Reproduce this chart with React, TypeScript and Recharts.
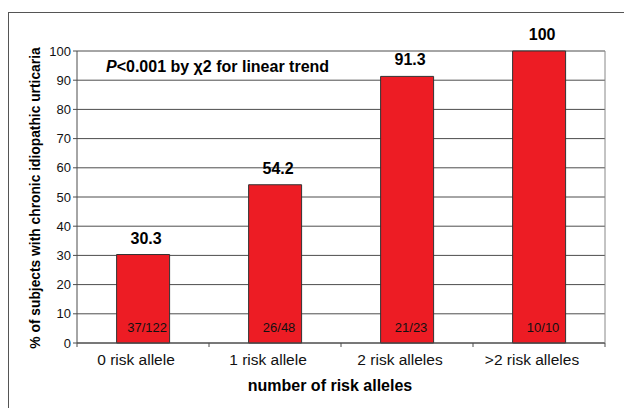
import React from 'react';
import { BarChart, Bar, XAxis, YAxis, CartesianGrid, LabelList, Customized } from 'recharts';

const categories = ['0 risk allele', '1 risk allele', '2 risk alleles', '>2 risk alleles'];
const percentages = [30.3, 54.2, 91.3, 100];
const counts = ['37/122', '26/48', '21/23', '10/10'];
const yTicks = [0, 10, 20, 30, 40, 50, 60, 70, 80, 90, 100];

const yAxisTitle = '% of subjects with chronic idiopathic urticaria';
const xAxisTitle = 'number of risk alleles';
const annotationRest = '<0.001 by \u03c72 for linear trend';

const data = categories.map((c, i) => ({ cat: c, pct: percentages[i], n: counts[i] }));

const W = 624;
const H = 408;
const MARGIN = { top: 51, right: 18, bottom: 35, left: 37 };
const Y_W = 40;
const R_W = 1;
const PLOT_W = W - MARGIN.left - Y_W - MARGIN.right - R_W;
const BAND = PLOT_W / categories.length;
const FONT = '"Liberation Sans", Arial, Helvetica, sans-serif';
const GRID = '#4d4d4d';

const XTick = (props: any) => {
  const { x, y, payload, index, visibleTicksCount } = props;
  const axisY = y - 6;
  const last = index === visibleTicksCount - 1;
  return (
    <g>
      <line x1={x - BAND / 2} x2={x - BAND / 2} y1={axisY} y2={axisY + 4} stroke={GRID} />
      {last && <line x1={x + BAND / 2} x2={x + BAND / 2} y1={axisY} y2={axisY + 4} stroke={GRID} />}
      <text x={x - 7} y={y + 16} textAnchor="middle" fontSize={15.5} fill="#111" fontFamily={FONT}>
        {payload.value}
      </text>
    </g>
  );
};

const ValueLabel = (props: any) => {
  const { x, y, width, value } = props;
  return (
    <text x={x + width / 2 + 3} y={y - 11} textAnchor="middle" fontSize={16} fontWeight="bold" fill="#000" fontFamily={FONT}>
      {value}
    </text>
  );
};

const CountLabel = (props: any) => {
  const { x, y, width, height, value } = props;
  return (
    <text x={x + width / 2 + 4} y={y + height - 11.5} textAnchor="middle" fontSize={13} fill="#111" fontFamily={FONT}>
      {value}
    </text>
  );
};

const Texts = () => (
  <g fontFamily={FONT}>
    <text x={106} y={71.5} fontSize={16} fontWeight="bold" fill="#000">
      <tspan fontStyle="italic">P</tspan>
      {annotationRest}
    </text>
    <text x={330} y={390.5} textAnchor="middle" fontSize={16} fontWeight="bold" fill="#000">
      {xAxisTitle}
    </text>
    <text x={40} y={198} transform="rotate(-90 40 198)" textAnchor="middle" fontSize={13.8} fontWeight="bold" fill="#000">
      {yAxisTitle}
    </text>
  </g>
);

export default function App() {
  return (
    <div style={{ position: 'absolute', left: 0, top: 0, width: W, height: H, overflow: 'hidden', background: '#fff' }}>
      <div
        style={{
          position: 'absolute',
          left: 8,
          top: 12,
          width: W,
          height: H,
          borderLeft: '1.5px solid #555',
          borderTop: '1.5px solid #555',
        }}
      />
      <div style={{ position: 'absolute', left: 0, top: 0 }}>
        <BarChart width={W} height={H} data={data} margin={MARGIN} barCategoryGap="30%">
          <CartesianGrid yAxisId="left" vertical={false} stroke={GRID} strokeWidth={1} />
          <XAxis
            dataKey="cat"
            yAxisId="left"
            height={30}
            tickLine={false}
            tickSize={4}
            tickMargin={2}
            axisLine={{ stroke: GRID }}
            tick={<XTick />}
            interval={0}
          />
          <YAxis
            yAxisId="left"
            width={Y_W}
            domain={[0, 100]}
            ticks={yTicks}
            interval={0}
            tickSize={4}
            tickMargin={2}
            axisLine={{ stroke: GRID }}
            tickLine={{ stroke: GRID }}
            tick={{ fontSize: 13, fill: '#111', fontFamily: FONT }}
          />
          <YAxis
            yAxisId="right"
            orientation="right"
            width={R_W}
            domain={[0, 100]}
            tick={false}
            tickLine={false}
            axisLine={{ stroke: '#888' }}
          />
          <Bar yAxisId="left" dataKey="pct" fill="#ED1C24" stroke="#333" strokeWidth={1} isAnimationActive={false}>
            <LabelList dataKey="pct" content={<ValueLabel />} />
            <LabelList dataKey="n" content={<CountLabel />} />
          </Bar>
          <Customized component={<Texts />} />
        </BarChart>
      </div>
    </div>
  );
}
